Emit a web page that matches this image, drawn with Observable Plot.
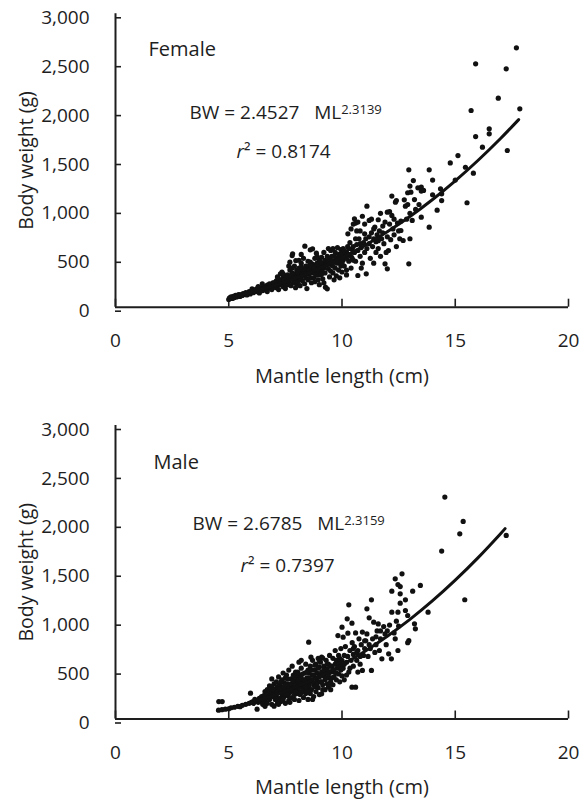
<!DOCTYPE html>
<html><head><meta charset="utf-8">
<script src="https://cdn.jsdelivr.net/npm/d3@7"></script>
<script src="https://cdn.jsdelivr.net/npm/@observablehq/plot@0.6"></script>
<style>
body{margin:0;background:#fff;}
#chart{width:587px;}
#chart svg{display:block;}
</style></head><body><div id="chart"></div>
<script>
const xTicks = [0, 5, 10, 15, 20];
const yTicks = [0, 500, 1000, 1500, 2000, 2500, 3000];
const xLabel = "Mantle length (cm)";
const yLabel = "Body weight (g)";
const femaleLabel = "Female";
const maleLabel = "Male";
const femaleEq = "BW = 2.4527\u00a0\u00a0\u00a0ML^2.3139";
const maleEq = "BW = 2.6785\u00a0\u00a0\u00a0ML^2.3159";
const femaleR2 = "r² = 0.8174";
const maleR2 = "r² = 0.7397";

const femaleCurve = [[5,102],[6,155],[7,221],[8,301],[9,396],[10,505],[11,630],[12,771],[13,927],[14,1101],[15,1292],[16,1500],[17,1725],[17.8,1918]];
const maleCurve = [[4.5,87],[5,111],[6,170],[7,243],[8,331],[9,434],[10,555],[11,691],[12,846],[13,1018],[14,1209],[15,1419],[16,1647],[17,1894],[17.2,1946]];

const femalePoints = [
[5.0,80],[5.05,95],[5.1,105],[5.15,90],[5.2,110],[5.25,100],[5.3,120],[5.35,105],[5.4,115],[5.45,130],[5.5,110],[5.5,125],
[5.6,120],[5.65,140],[5.7,130],[5.75,150],[5.8,125],[5.85,145],[5.9,160],[5.95,135],[6.0,150],[6.03,188],
[6.1,150],[6.15,175],[6.2,160],[6.25,190],[6.3,170],[6.35,145],[6.4,185],[6.45,200],[6.48,239],[6.5,170],[6.3,210],
[6.55,190],[6.6,210],[6.65,175],[6.7,225],[6.75,200],[6.8,240],[6.85,195],[6.9,215],[6.95,250],[7.0,205],[7.0,230],[6.7,160],[6.9,180],
[7.05,240],[7.1,200],[7.1,270],[7.15,220],[7.2,290],[7.2,180],[7.25,250],[7.28,341],[7.3,230],[7.35,270],[7.4,210],[7.4,300],[7.45,255],[7.5,320],[7.5,240],[7.5,190],[7.15,310],[7.35,360],
[7.55,280],[7.6,230],[7.6,330],[7.65,260],[7.7,380],[7.7,300],[7.75,220],[7.75,290],[7.8,350],[7.8,528],[7.82,546],[7.85,250],[7.85,310],[7.9,420],[7.9,270],[7.95,200],[7.95,340],[8.0,300],[8.0,380],[8.0,240],[7.65,420],[7.96,477],[7.7,460],
[8.05,330],[8.05,260],[8.1,400],[8.1,290],[8.15,350],[8.15,220],[8.2,310],[8.2,450],[8.25,380],[8.25,270],[8.3,330],[8.3,500],[8.35,240],[8.35,360],[8.36,624],[8.4,300],[8.4,420],[8.45,350],[8.45,190],[8.5,390],[8.5,280],[8.5,470],[8.2,540],[8.1,480],
[8.55,340],[8.55,420],[8.6,300],[8.6,587],[8.65,380],[8.65,250],[8.7,440],[8.7,597],[8.75,350],[8.75,300],[8.8,410],[8.8,500],[8.85,370],[8.87,552],[8.9,330],[8.9,450],[8.95,280],[8.95,400],[9.0,360],[9.0,480],[9.0,230],[8.6,460],[8.8,260],
[9.05,420],[9.05,330],[9.1,510],[9.1,380],[9.15,450],[9.15,290],[9.2,400],[9.2,560],[9.25,350],[9.27,205],[9.3,470],[9.3,430],[9.35,188],[9.35,520],[9.4,390],[9.4,600],[9.45,440],[9.45,310],[9.5,480],[9.5,370],[9.5,580],[9.2,250],
[9.55,430],[9.55,520],[9.6,350],[9.6,600],[9.65,470],[9.7,400],[9.7,560],[9.75,500],[9.75,320],[9.8,450],[9.8,610],[9.85,380],[9.85,540],[9.9,470],[9.9,300],[9.95,590],[9.95,420],[10.0,500],[10.0,360],[10.0,560],[9.65,280],
[10.05,480],[10.05,600],[10.1,420],[10.1,530],[10.2,560],[10.2,380],[10.25,620],[10.26,750],[10.3,470],[10.3,540],[10.35,660],[10.4,520],[10.4,400],[10.45,590],[10.5,480],[10.5,850],[10.5,620],[10.4,800],[10.2,330],
[10.55,904],[10.55,560],[10.6,860],[10.6,470],[10.65,640],[10.7,870],[10.7,324],[10.7,580],[10.75,700],[10.8,520],[10.8,780],[10.85,610],[10.9,930],[10.9,450],[10.95,660],[11.0,560],[11.0,850],[10.65,780],[10.85,400],
[11.05,700],[11.07,341],[11.1,1033],[11.1,600],[11.2,887],[11.2,650],[11.25,500],[11.3,760],[11.3,900],[11.35,620],[11.4,700],[11.45,820],[11.5,560],[11.5,670],[11.4,450],
[11.55,740],[11.6,894],[11.6,600],[11.65,780],[11.7,520],[11.75,700],[11.8,830],[11.85,650],[11.9,870],[11.9,443],[11.95,560],[12.0,392],[12.0,972],[12.0,720],[11.7,960],
[12.05,580],[12.1,977],[12.15,690],[12.2,938],[12.2,1136],[12.25,800],[12.3,740],[12.36,1074],[12.4,1091],[12.4,620],[12.45,860],[12.5,780],
[12.55,700],[12.6,784],[12.7,682],[12.75,1098],[12.8,1033],[12.85,900],[12.9,1170],[12.95,1405],[12.95,444],[13.0,700],[13.0,1238],[13.0,960],
[13.04,1176],[13.1,887],[13.15,1295],[13.25,1000],[13.35,1221],[13.5,1187],[13.5,1228],[13.5,921],[13.4,1050],
[13.6,1194],[13.85,1405],[13.85,818],[14.0,1300],[14.2,992],[14.35,1210],[14.4,1090],[14.4,1159],[14.0,1150],
[14.78,1475],[15.12,1550],[15.45,1431],[15.52,1068],[15.0,1300],
[15.7,2011],[15.8,1370],[15.9,2488],[15.9,1745],[16.2,1636],[16.5,1824],[16.5,1773],[16.9,2137],[17.25,2437],[17.3,1602],[17.7,2652],[17.85,2028],
[5.2,95],[5.4,125],[5.6,135],[5.8,140],[6.0,165],[6.2,180],[6.4,165],[6.6,195],[6.8,215],[7.0,250],[7.1,230],[7.3,260],[7.45,280],[7.6,300],[7.75,320],[7.9,300],
[8.05,360],[8.15,300],[8.3,390],[8.4,340],[8.55,380],[8.65,420],[8.75,400],[8.85,330],[8.95,440],[9.05,460],[9.15,410],[9.25,480],[9.35,440],[9.45,500],[9.55,470],[9.65,520],
[9.75,460],[9.85,500],[9.95,540],[10.1,580],[10.3,600],[10.45,500],[10.6,700],[10.8,650],[11.0,750],[11.2,720],[11.4,800],[11.6,680],[11.8,760],[12.1,850],[12.3,900],[12.6,880],
[12.9,1050],[13.2,1100],[8.2,410],[8.9,520],[9.1,340],[9.6,420],[10.0,450],[7.4,340],[7.8,400],[8.6,350],[9.4,470],[10.2,500]
];

const malePoints = [
[4.56,178],[4.71,178],[4.55,90],[4.7,95],[4.85,100],[5.0,105],[5.1,115],[5.25,120],[5.4,130],[5.5,125],[5.6,140],[5.75,150],[5.9,160],[5.96,264],[6.0,170],
[6.05,175],[6.1,160],[6.15,200],[6.22,189],[6.25,100],[6.3,170],[6.35,210],[6.4,180],[6.45,230],[6.5,200],[6.5,150],
[6.55,240],[6.6,180],[6.6,280],[6.65,220],[6.7,300],[6.7,160],[6.75,250],[6.8,340],[6.8,200],[6.85,270],[6.9,410],[6.9,150],[6.95,230],[6.95,310],[7.0,131],[7.0,260],[7.0,360],[6.6,130],
[7.05,200],[7.05,300],[7.1,380],[7.1,240],[7.15,160],[7.15,330],[7.2,270],[7.2,430],[7.25,210],[7.25,350],[7.3,290],[7.3,180],[7.35,400],[7.35,250],[7.4,320],[7.4,470],[7.45,230],[7.45,370],[7.5,280],[7.5,160],[7.5,420],[7.2,150],[7.4,200],
[7.55,300],[7.55,450],[7.6,240],[7.6,360],[7.65,190],[7.65,500],[7.7,330],[7.7,270],[7.75,410],[7.75,220],[7.8,350],[7.8,540],[7.85,290],[7.85,450],[7.9,200],[7.9,380],[7.95,320],[7.95,480],[8.0,260],[8.0,420],[8.0,350],[7.7,170],[7.9,250],
[8.05,300],[8.05,480],[8.1,189],[8.1,581],[8.1,380],[8.15,250],[8.15,440],[8.2,330],[8.2,520],[8.25,280],[8.25,400],[8.3,360],[8.3,220],[8.35,470],[8.35,310],[8.4,560],[8.4,260],[8.45,420],[8.45,350],[8.5,300],[8.5,500],[8.5,200],[8.2,600],[8.4,390],
[8.53,785],[8.55,340],[8.55,470],[8.6,260],[8.6,540],[8.63,632],[8.65,400],[8.65,300],[8.7,450],[8.7,600],[8.75,350],[8.75,230],[8.8,500],[8.8,420],[8.85,280],[8.85,560],[8.9,380],[8.9,470],[8.95,320],[8.95,620],[9.0,430],[9.0,250],[9.0,530],[8.7,200],[8.9,360],
[9.05,380],[9.05,580],[9.1,257],[9.1,632],[9.1,480],[9.15,622],[9.15,350],[9.2,440],[9.2,540],[9.25,300],[9.25,400],[9.3,600],[9.3,470],[9.35,360],[9.35,510],[9.4,325],[9.4,560],[9.45,420],[9.45,650],[9.5,480],[9.5,300],[9.5,380],
[9.55,540],[9.55,420],[9.6,620],[9.6,350],[9.65,480],[9.7,700],[9.7,560],[9.75,400],[9.75,600],[9.8,520],[9.82,853],[9.85,460],[9.85,650],[9.9,580],[9.9,380],[9.95,500],[9.95,720],[10.0,939],[10.0,600],[10.0,440],
[10.05,836],[10.05,520],[10.1,650],[10.1,400],[10.15,740],[10.2,580],[10.23,1024],[10.26,877],[10.3,1167],[10.3,480],[10.35,700],[10.4,600],[10.44,979],[10.44,325],[10.45,780],[10.5,540],[10.5,660],[10.2,450],
[10.55,740],[10.6,325],[10.6,880],[10.65,600],[10.7,700],[10.75,820],[10.8,560],[10.85,760],[10.9,888],[10.9,496],[10.95,650],[11.0,720],[10.7,480],
[11.05,800],[11.1,1126],[11.1,870],[11.15,640],[11.2,1034],[11.25,720],[11.3,1218],[11.3,496],[11.35,820],[11.4,990],[11.45,680],[11.5,760],
[11.55,900],[11.6,972],[11.65,700],[11.7,820],[11.76,615],[11.84,945],[11.9,870],[11.95,760],[12.0,900],
[12.06,666],[12.18,615],[12.2,1307],[12.2,1092],[12.3,880],[12.35,1433],[12.35,820],[12.47,1375],[12.47,1092],[12.47,700],[12.5,950],
[12.57,1279],[12.57,1184],[12.57,1354],[12.65,1484],[12.8,1218],[12.8,1109],[12.9,1058],[12.95,801],[12.9,780],
[13.12,1307],[13.2,973],[13.24,922],[13.46,1365],[13.8,1092],
[14.4,1716],[14.54,2268],[15.2,1893],[15.35,2019],[15.42,1219],[17.25,1876],
[6.6,230],[6.7,260],[6.8,290],[6.9,330],[7.0,300],[7.05,250],[7.15,280],[7.25,310],[7.3,380],[7.35,300],[7.45,330],[7.55,260],[7.6,410],[7.65,320],[7.75,360],[7.8,300],
[7.85,390],[7.95,280],[8.0,460],[8.05,400],[8.1,320],[8.15,360],[8.2,420],[8.25,460],[8.3,300],[8.35,400],[8.4,330],[8.45,480],[8.55,420],[8.6,380],[8.65,500],[8.75,450],
[8.8,330],[8.9,420],[8.95,520],[9.05,450],[9.1,380],[9.2,500],[9.3,420],[9.35,560],[9.4,460],[9.5,540],[9.6,500],[9.65,430],[9.75,470],[9.85,560],[9.9,620],[10.0,520],
[10.1,560],[10.25,640],[10.35,520],[10.5,720],[10.65,680],[10.8,640],[11.0,800],[11.2,760],[11.5,840],[11.7,900],[12.1,960],[12.4,1000],[7.9,430],[8.45,280],[8.7,380],[9.15,300],
[9.45,360],[7.1,200],[7.5,350],[8.2,270],[8.8,550],[9.0,600]
];

const INK = "#1e1e1e";
const FONT = "'Open Sans', 'Noto Sans', sans-serif";

function panel({points, curve, label, eq, r2, height, marginTop, marginBottom, labelPos, eqPos, r2Pos}) {
  return Plot.plot({
    width: 587, height, marginLeft: 115, marginRight: 19, marginTop, marginBottom,
    style: {fontFamily: FONT, fontSize: "19px", color: INK, background: "#fff", overflow: "visible"},
    x: {domain: [0, 20]},
    y: {domain: [0, 3000]},
    marks: [
      Plot.axisX({ticks: xTicks, tickSize: -8, tickPadding: 34, label: null, strokeWidth: 1.6, fontSize: 19}),
      Plot.axisY({ticks: yTicks, tickSize: -6, tickPadding: 32, tickFormat: d3.format(","), label: null, strokeWidth: 1.6, fontSize: 19, dy: 4}),
      Plot.ruleX([0], {stroke: INK, strokeWidth: 2}),
      Plot.ruleY([0], {stroke: INK, strokeWidth: 2}),
      Plot.dot(points, {x: d => d[0], y: d => d[1], r: 2.6, fill: "#111", stroke: "none"}),
      Plot.line(curve, {x: d => d[0], y: d => d[1], curve: "catmull-rom", stroke: "#111", strokeWidth: 3}),
      Plot.text([label], {frameAnchor: "top-left", dx: labelPos[0], dy: labelPos[1], textAnchor: "start", lineAnchor: "middle", fontSize: 20, fill: INK}),
      Plot.text([eq], {frameAnchor: "top-left", dx: eqPos[0], dy: eqPos[1], textAnchor: "start", lineAnchor: "middle", fontSize: 19, fill: INK}),
      Plot.text([r2], {frameAnchor: "top-left", dx: r2Pos[0], dy: r2Pos[1], textAnchor: "start", lineAnchor: "middle", fontSize: 19, fill: INK}),
      Plot.text([yLabel], {frameAnchor: "left", dx: -89, rotate: -90, textAnchor: "middle", lineAnchor: "middle", fontSize: 19.5, fill: INK}),
      Plot.text([xLabel], {frameAnchor: "bottom", dy: 69, lineAnchor: "middle", fontSize: 20, fill: INK})
    ]
  });
}

const NS = "http://www.w3.org/2000/svg";
function decorate(svg) {
  svg.querySelectorAll("text").forEach(t => {
    const s = t.textContent;
    if (s.includes("^")) {
      const [base, sup] = s.split("^");
      t.textContent = "";
      const a = document.createElementNS(NS, "tspan"); a.textContent = base; t.appendChild(a);
      const b = document.createElementNS(NS, "tspan"); b.textContent = sup;
      b.setAttribute("dy", "-5"); b.setAttribute("font-size", "13"); t.appendChild(b);
    } else if (s.startsWith("r²")) {
      t.textContent = "";
      const a = document.createElementNS(NS, "tspan"); a.textContent = "r"; a.setAttribute("font-style", "italic"); t.appendChild(a);
      const b = document.createElementNS(NS, "tspan"); b.textContent = s.slice(1); t.appendChild(b);
    }
  });
  return svg;
}

const femalePanel = panel({points: femalePoints, curve: femaleCurve, label: femaleLabel, eq: femaleEq, r2: femaleR2,
  height: 400, marginTop: 13.3, marginBottom: 93.3, labelPos: [33, 36], eqPos: [74, 99.5], r2Pos: [121, 138.5]});
const malePanel = panel({points: malePoints, curve: maleCurve, label: maleLabel, eq: maleEq, r2: maleR2,
  height: 401, marginTop: 25, marginBottom: 82.5, labelPos: [38, 37], eqPos: [77, 98.5], r2Pos: [125, 140]});
const chartEl = document.getElementById("chart");
chartEl.appendChild(decorate(femalePanel));
chartEl.appendChild(decorate(malePanel));
</script></body></html>
